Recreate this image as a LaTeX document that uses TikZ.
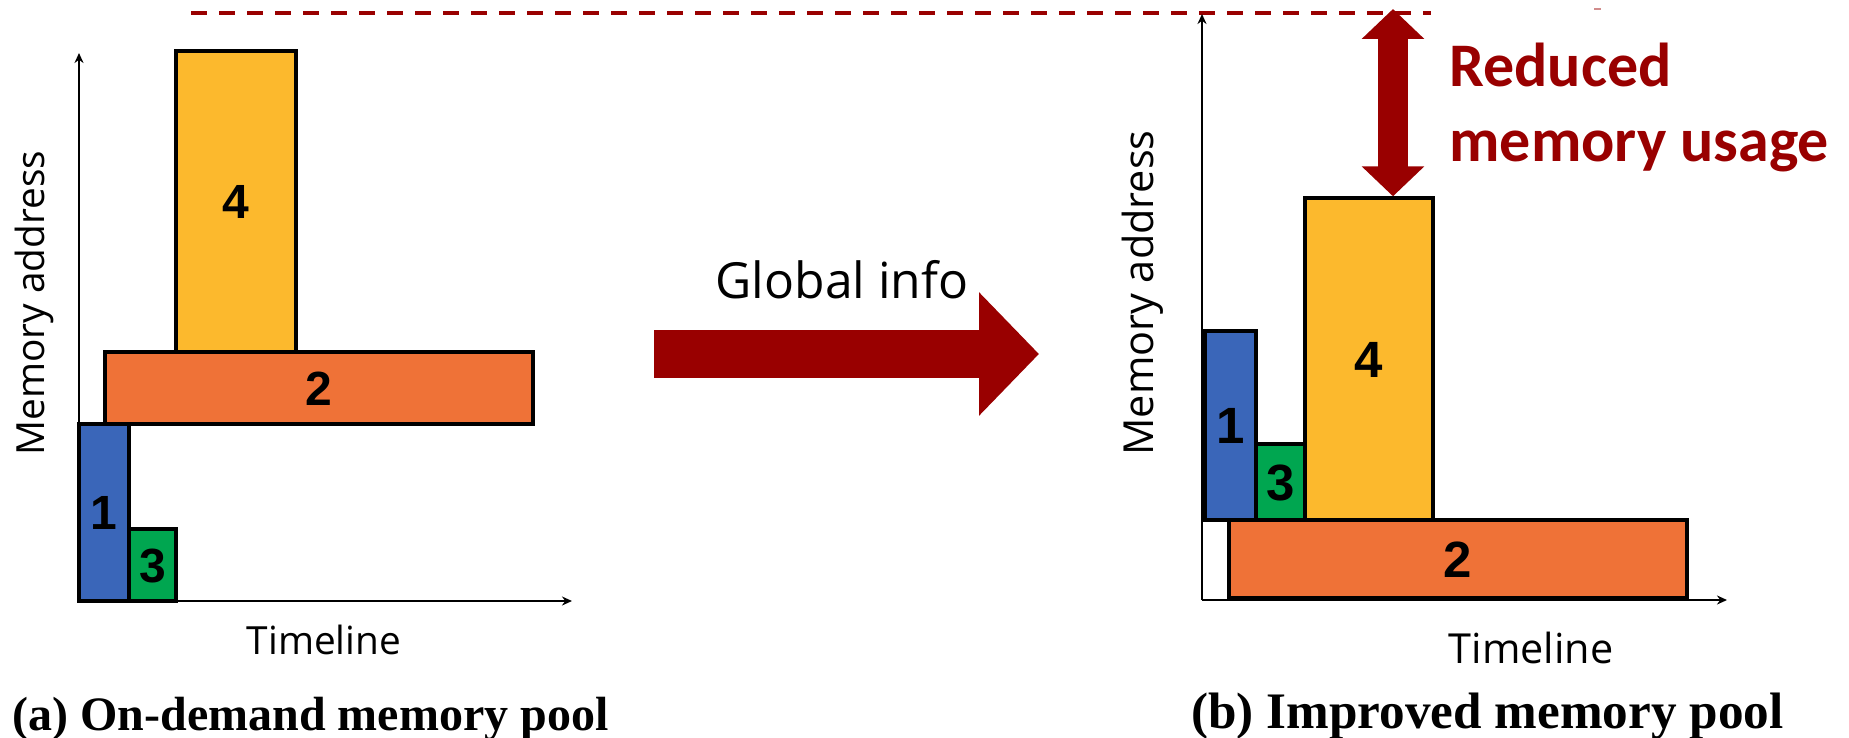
\documentclass[tikz,border=0pt]{standalone}
\usepackage{fontspec}
\setmainfont{Liberation Serif}
\newfontfamily\labelfont{Open Sans}
\newfontfamily\digitfont{Liberation Sans}
\newfontfamily\notefont{Carlito}
\usetikzlibrary{fit,arrows.meta}

\definecolor{memblue}{HTML}{3A66B9}
\definecolor{memgreen}{HTML}{00A650}
\definecolor{memorange}{HTML}{EF7237}
\definecolor{memyellow}{HTML}{FCB92D}
\definecolor{darkred}{HTML}{990000}

\tikzset{
  blk/.style={draw=black, line width=1.7pt, inner sep=0pt},
  % block numbers sit on a baseline placed half a digit height below the block centre
  numL/.style={inner sep=0pt, anchor=base, yshift=-8.6pt,
    font=\digitfont\bfseries\fontsize{24}{24}\selectfont},
  numR/.style={inner sep=0pt, anchor=base, yshift=-9.1pt,
    font=\digitfont\bfseries\fontsize{25.5}{25.5}\selectfont},
  axis/.style={draw=black, line width=0.9pt, -{Stealth[length=5pt,width=4.5pt]}},
  labL/.style={inner sep=0pt, font=\labelfont\fontsize{19.4}{20}\selectfont},
  labR/.style={inner sep=0pt, font=\labelfont\fontsize{20.7}{21}\selectfont},
  note/.style={inner sep=0pt, anchor=base west, text=darkred,
    font=\notefont\bfseries\fontsize{31}{31}\selectfont},
  caption/.style={inner sep=0pt, anchor=base west, font=\bfseries},
}

\begin{document}
\begin{tikzpicture}[x=0.5pt,y=-0.5pt]
\useasboundingbox (0,0) rectangle (1849,738);

% ---- left panel: on-demand pool ----
\coordinate (lo) at (79,601);
\coordinate (ly) at (79,53);
\coordinate (lx) at (572,601);
\draw[axis] (lo) -- (ly);
\draw[axis] (lo) -- (lx);

\node[blk, fill=memyellow, fit={(176,51) (296,352)}] (l4) {};
\node[blk, fill=memorange, fit={(105,352) (533,424)}] (l2) {};
\node[blk, fill=memblue,   fit={(79,424) (129,601)}] (l1) {};
\node[blk, fill=memgreen,  fit={(129,529) (176,601)}] (l3) {};
\node[numL] (l4n) at (l4.center) {4};
\node[numL] (l2n) at (l2.center) {2};
\node[numL] (l1n) at (l1.center) {1};
\node[numL] (l3n) at (l3.center) {3};

\node[labL, rotate=90, anchor=base] (lmem) at (44,303) {Memory address};
\node[labL, anchor=base] (ltime) at (324,654) {Timeline};
\node[caption, font=\bfseries\fontsize{24}{24}\selectfont] (capa) at (12,730) {(a) On-demand memory pool};

% ---- transition arrow ----
\coordinate (gstart) at (654,354);
\coordinate (gend) at (1039,354);
\draw[darkred, line width=24pt, -{Triangle[width=60pt,length=30pt]}] (gstart) -- (gend);
\node[inner sep=0pt, anchor=base, font=\labelfont\fontsize{24.9}{25}\selectfont] (ginfo) at (842,298) {Global info};

% ---- peak level of the on-demand pool ----
\coordinate (dashL) at (191,13);
\coordinate (dashR) at (1431,13);
\draw[darkred, line width=2.4pt, dash pattern=on 8pt off 6pt] (dashL) -- (dashR);
\draw[darkred!45, line width=0.6pt] (1594,9) -- (1601,9);

% ---- right panel: improved pool ----
\coordinate (ro) at (1202,600);
\coordinate (ry) at (1202,14);
\coordinate (rx) at (1727,600);
\draw[axis] (ro) -- (ry);
\draw[axis] (ro) -- (rx);

\node[blk, fill=memorange, fit={(1229,520) (1687,598)}] (r2) {};
\node[blk, fill=memblue,   fit={(1205,331) (1256,520)}] (r1) {};
\node[blk, fill=memgreen,  fit={(1256,444) (1305,520)}] (r3) {};
\node[blk, fill=memyellow, fit={(1305,198) (1433,520)}] (r4) {};
\node[numR] (r2n) at (r2.center) {2};
\node[numR] (r1n) at (r1.center) {1};
\node[numR] (r3n) at (r3.center) {3};
\node[numR] (r4n) at (r4.center) {4};

% saved-memory gap
\coordinate (peak) at (1393,9);
\draw[darkred, line width=15pt, {Triangle[width=30.5pt,length=15pt]}-{Triangle[width=30.5pt,length=15pt]}]
  (peak) -- (peak |- r4.north);
\node[note] (red1) at (1449,87) {Reduced};
\node[note] (red2) at (1449,162) {memory usage};

\node[labR, rotate=90, anchor=base] (rmem) at (1153,293) {Memory address};
\node[labR, anchor=base] (rtime) at (1531,663) {Timeline};
\node[caption, font=\bfseries\fontsize{25.6}{25.6}\selectfont] (capb) at (1191,728) {(b) Improved memory pool};
\end{tikzpicture}
\end{document}
